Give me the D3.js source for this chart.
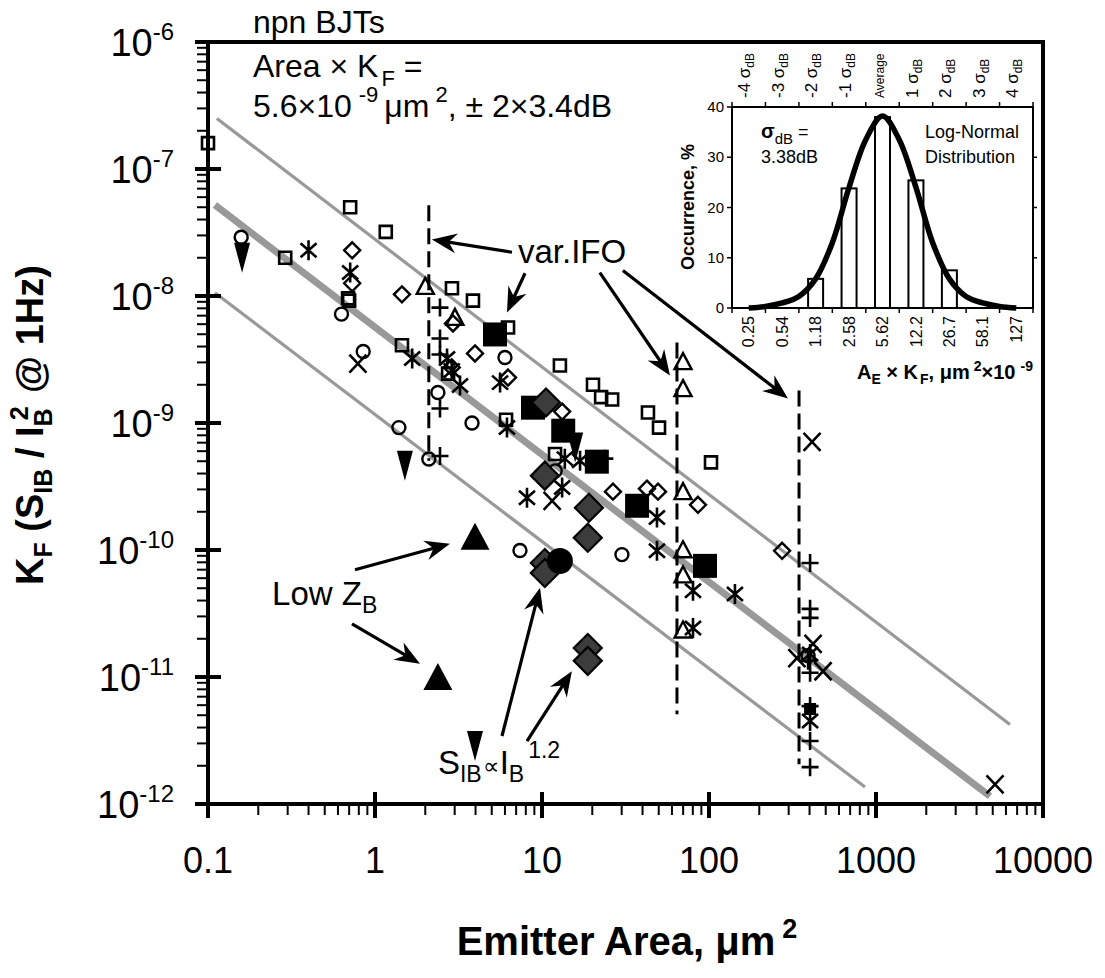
<!DOCTYPE html>
<html><head><meta charset="utf-8">
<script src="https://cdn.jsdelivr.net/npm/d3@7"></script>
<style>body{margin:0;background:#fff}svg{display:block}text{font-family:Arial,"Liberation Sans",sans-serif;fill:#000}</style>
</head><body><svg id="c" width="1105" height="978"></svg>
<script>
// ---------- DATA ----------
const xTickValues = [0.1, 1, 10, 100, 1000, 10000];
const xTickLabels = ["0.1", "1", "10", "100", "1000", "10000"];
const yTickExponents = [-6, -7, -8, -9, -10, -11, -12];

// [emitter area um^2, KF]
const openSquares = [[0.1,1.6e-7],[0.71,5.0e-8],[1.16,3.2e-8],[0.29,2.0e-8],[0.69,9.6e-9],[0.70,9.2e-9],[1.45,4.1e-9],[2.89,1.15e-8],[3.86,9.2e-9],[2.74,2.45e-9],[6.26,5.65e-9],[12.8,2.84e-9],[20.2,2.0e-9],[22.6,1.6e-9],[26.3,1.53e-9],[43.1,1.21e-9],[50.2,9.2e-10],[102.8,4.9e-10],[6.09,1.06e-9],[11.97,5.7e-10]];
const filledSquares = [[5.23,4.98e-9],[8.83,1.32e-9],[13.4,8.7e-10],[21.3,4.96e-10],[37.1,2.23e-10],[94.6,7.5e-11]];
const smallFilledSquares = [[403,5.6e-12]];
const darkDiamonds = [[10.57,1.45e-9],[10.4,3.85e-10],[19.1,2.15e-10],[18.8,1.25e-10],[10.4,7.9e-11],[10.4,6.6e-11],[18.8,1.69e-11],[18.8,1.34e-11]];
const filledCircles = [[12.8,8.2e-11]];
const filledTrianglesUp = [[3.97,1.25e-10],[2.38,9.8e-12]];
const filledTrianglesDown = [[0.16,2.0e-8],[1.51,4.6e-10],[3.97,2.86e-12],[15.8,6.4e-10]];
const openCircles = [[0.158,2.9e-8],[0.63,7.2e-9],[0.85,3.66e-9],[1.39,9.2e-10],[2.1,5.2e-10],[2.38,1.74e-9],[3.81,1.0e-9],[6.0,3.28e-9],[12.0,4.2e-10],[7.38,9.9e-11],[30.1,9.2e-11],[392,1.47e-11]];
const openDiamonds = [[0.73,2.29e-8],[0.73,1.26e-8],[1.45,1.03e-8],[2.93,6.08e-9],[3.97,3.53e-9],[2.88,2.74e-9],[6.26,2.28e-9],[13.2,1.23e-9],[26.6,2.88e-10],[42.5,3.04e-10],[49.5,2.88e-10],[85.9,2.27e-10],[274,9.86e-11]];
const openTriangles = [[2.0,1.17e-8],[3.01,6.66e-9],[69.9,2.99e-9],[69.9,1.83e-9],[69.9,2.83e-10],[69.9,9.86e-11],[69.9,6.26e-11],[69.9,2.3e-11]];
const asterisks = [[0.40,2.29e-8],[0.71,1.53e-8],[1.67,3.22e-9],[2.70,3.22e-9],[3.23,1.97e-9],[2.88,2.59e-9],[5.61,2.08e-9],[6.17,9.2e-10],[13.7,5.24e-10],[16.9,5.05e-10],[13.2,3.1e-10],[8.13,2.58e-10],[48.8,1.8e-10],[48.8,9.86e-11],[80.2,4.77e-11],[143,4.5e-11],[80.2,2.43e-11],[403,4.5e-12],[403,1.52e-11]];
const xMarks = [[0.79,2.94e-9],[11.5,2.44e-10],[336,1.41e-11],[420,1.82e-11],[482,1.11e-11],[5160,1.43e-12],[414,7.1e-10]];
const plusMarks = [[2.45,8.1e-9],[2.45,4.63e-9],[2.45,3.46e-9],[2.45,1.3e-9],[2.45,5.5e-10],[403,7.9e-11],[403,3.44e-11],[403,2.92e-11],[403,1.08e-11],[403,5.9e-12],[403,3.13e-12],[403,1.95e-12],[392,1.34e-11],[23.8,5.24e-10]];

// fit lines: Area x KF = 5.6e-9, +/- 2 x 3.4 dB
const fitCenter = [[0.11,5.2e-8],[4816,1.15e-12]];
const fitUpper = [[0.113,2.5e-7],[6340,4.23e-12]];
const fitLower = [[0.11,1.06e-8],[859,1.36e-12]];
// var.IFO dashed verticals
const ifoLines = [[[2.1,5.19e-8],[2.1,5.05e-10]],[[64.3,4.31e-9],[64.3,5.1e-12]],[[346,1.8e-9],[346,2.06e-12]]];
// annotation arrows [from, to]
const arrows = [
  [[6.61,2.21e-8],[2.19,2.79e-8]],
  [[7.91,1.51e-8],[6.17,7.43e-9]],
  [[22.2,1.53e-8],[58.4,2.37e-9]],
  [[30.5,1.59e-8],[297,1.56e-9]],
  [[0.759,6.98e-11],[2.81,1.12e-10]],
  [[0.728,2.62e-11],[1.86,1.27e-11]],
  [[5.76,3.43e-12],[9.73,5.04e-11]],
  [[8.13,3.13e-12],[15.1,1.11e-11]]
];

// inset histogram
const insetCategories = ["0.25","0.54","1.18","2.58","5.62","12.2","26.7","58.1","127"];
const insetTopLabels = ["-4","-3","-2","-1","Average","1","2","3","4"];
const insetOccurrence = [0,0,5.8,23.8,38,25.4,7.5,0,0];
const insetYTicks = [0,10,20,30,40];
const curveSigma = [-4,-3.5,-3,-2.5,-2,-1.5,-1,-0.5,0,0.5,1,1.5,2,2.5,3,3.5,4];
const curveOccurrence = [0,0.3,1,2.3,5.8,13,24,33.5,38.2,33.5,24,13,5.8,2.3,1,0.3,0];

// ---------- DRAW ----------
const svg = d3.select("#c");
const x = d3.scaleLog().domain([0.1, 1e4]).range([208, 1043]);
const y = d3.scaleLog().domain([1e-12, 1e-6]).range([804, 42]);
const line = d3.line().x(d => x(d[0])).y(d => y(d[1]));

const g = svg.append("g");
// fit lines
g.append("path").attr("d", line(fitUpper)).attr("stroke", "#999").attr("stroke-width", 3.2).attr("fill", "none");
g.append("path").attr("d", line(fitLower)).attr("stroke", "#999").attr("stroke-width", 3.2).attr("fill", "none");
g.append("path").attr("d", line(fitCenter)).attr("stroke", "#999").attr("stroke-width", 7).attr("fill", "none");
// dashed
ifoLines.forEach(l => g.append("path").attr("d", line(l)).attr("stroke", "#000").attr("stroke-width", 3).attr("stroke-dasharray", "16,7").attr("fill", "none"));

// markers
const S = {
  openSquare: "M-6,-6H6V6H-6Z",
  openDiamond: "M0,-8L8,0L0,8L-8,0Z",
  openCircle: "M6.5,0A6.5,6.5 0 1 1 -6.5,0A6.5,6.5 0 1 1 6.5,0Z",
  openTriangle: "M0,-9.5L8.5,6.5H-8.5Z",
  asterisk: "M0,-10V10M-8,-7L8,7M-8,7L8,-7",
  xMark: "M-8.5,-9L8.5,9M-8.5,9L8.5,-9",
  plus: "M-8.5,0H8.5M0,-9V9",
  filledSquare: "M-12,-12H12V12H-12Z",
  smallFilledSquare: "M-6,-6H6V6H-6Z",
  darkDiamond: "M0,-14L14,0L0,14L-14,0Z",
  filledCircle: "M13,0A13,13 0 1 1 -13,0A13,13 0 1 1 13,0Z",
  triUp: "M0,-15L14.5,12H-14.5Z",
  triDown: "M-8,-15H8L0,15Z"
};
function plot(data, shape, fill, stroke, sw) {
  g.append("g").selectAll("path").data(data).join("path")
    .attr("d", shape).attr("transform", p => `translate(${x(p[0])},${y(p[1])})`)
    .attr("fill", fill).attr("stroke", stroke).attr("stroke-width", sw);
}
plot(openSquares, S.openSquare, "none", "#000", 2.6);
plot(openCircles, S.openCircle, "none", "#000", 2.4);
plot(openDiamonds, S.openDiamond, "none", "#000", 2.4);
plot(openTriangles, S.openTriangle, "none", "#000", 2.4);
plot(asterisks, S.asterisk, "none", "#000", 2.6);
plot(xMarks, S.xMark, "none", "#000", 2.6);
plot(plusMarks, S.plus, "none", "#000", 2.6);
plot(filledTrianglesDown, S.triDown, "#000", "none", 0);
plot(filledSquares, S.filledSquare, "#000", "none", 0);
plot(smallFilledSquares, S.smallFilledSquare, "#000", "none", 0);
plot(darkDiamonds, S.darkDiamond, "#3c3c3c", "#000", 2.2);
plot(filledCircles, S.filledCircle, "#000", "none", 0);
plot(filledTrianglesUp, S.triUp, "#000", "none", 0);

// arrows
arrows.forEach(([a, b]) => {
  const x1 = x(a[0]), y1 = y(a[1]), x2 = x(b[0]), y2 = y(b[1]);
  const ang = Math.atan2(y2 - y1, x2 - x1);
  const L = Math.hypot(x2 - x1, y2 - y1);
  const ag = g.append("g").attr("transform", `translate(${x1},${y1}) rotate(${ang * 180 / Math.PI})`);
  ag.append("line").attr("x1", 0).attr("y1", 0).attr("x2", L - 12).attr("y2", 0).attr("stroke", "#000").attr("stroke-width", 3.2);
  ag.append("path").attr("d", `M${L},0L${L - 25},-10L${L - 17},0L${L - 25},10Z`).attr("fill", "#000");
});

// annotation texts
const F = 33;
g.append("text").attr("x", x(7.18)).attr("y", y(1.81e-8)).attr("font-size", F).text("var.IFO");
const lz = g.append("text").attr("x", x(0.242)).attr("y", y(3.7e-11)).attr("font-size", F);
lz.append("tspan").text("Low Z");
lz.append("tspan").attr("font-size", 23).attr("dy", 8).text("B");
const sib = g.append("text").attr("x", x(2.38)).attr("y", y(1.72e-12)).attr("font-size", F);
sib.append("tspan").text("S");
sib.append("tspan").attr("font-size", 23).attr("dy", 8).text("IB");
sib.append("tspan").attr("font-size", 23).attr("dy", -8).attr("dx", 1).text("\u221D");
sib.append("tspan").attr("font-size", F).attr("dx", 1).text("I");
sib.append("tspan").attr("font-size", 23).attr("dy", 8).text("B");
sib.append("tspan").attr("font-size", 23).attr("dy", -24).attr("dx", 4).text("1.2");

// header texts
const H = 32;
svg.append("text").attr("x", 253).attr("y", 33).attr("font-size", H).text("npn BJTs");
const t2 = svg.append("text").attr("x", 253).attr("y", 77).attr("font-size", H);
t2.append("tspan").text("Area \u00D7 K");
t2.append("tspan").attr("font-size", 22).attr("dy", 9).attr("dx", 3).text("F");
t2.append("tspan").attr("dy", -9).text(" =");
const t3 = svg.append("text").attr("x", 253).attr("y", 117).attr("font-size", H);
t3.append("tspan").text("5.6\u00D710");
t3.append("tspan").attr("font-size", 22).attr("dy", -15).attr("dx", 7).text("-9");
t3.append("tspan").attr("dy", 15).attr("dx", 6).text("\u03BCm");
t3.append("tspan").attr("font-size", 22).attr("dy", -15).attr("dx", 6).text("2");
t3.append("tspan").attr("dy", 15).text(", \u00B1 2\u00D73.4dB");

// ---------- AXES / FRAME ----------
const ax = svg.append("g").attr("stroke", "#000");
ax.append("rect").attr("x", 208).attr("y", 42).attr("width", 835).attr("height", 762).attr("fill", "none").attr("stroke-width", 4);
const xMinor = [], yMinor = [];
for (let d = 0.1; d < 5000; d *= 10) for (let m = 2; m <= 9; m++) xMinor.push(m * d);
for (let e = -12; e < -6; e++) for (let m = 2; m <= 9; m++) yMinor.push(m * Math.pow(10, e));
ax.selectAll(".xm").data(xMinor).join("line").attr("x1", d => x(d)).attr("x2", d => x(d)).attr("y1", 804).attr("y2", 815).attr("stroke-width", 2);
ax.selectAll(".xM").data(xTickValues).join("line").attr("x1", d => x(d)).attr("x2", d => x(d)).attr("y1", 792).attr("y2", 818).attr("stroke-width", 4);
ax.selectAll(".ym").data(yMinor).join("line").attr("y1", d => y(d)).attr("y2", d => y(d)).attr("x1", 197).attr("x2", 208).attr("stroke-width", 2);
ax.selectAll(".yM").data(yTickExponents).join("line").attr("y1", d => y(Math.pow(10, d))).attr("y2", d => y(Math.pow(10, d))).attr("x1", 195).attr("x2", 221).attr("stroke-width", 4);

svg.append("g").selectAll("text").data(xTickValues).join("text")
  .attr("x", d => x(d)).attr("y", 873).attr("text-anchor", "middle").attr("font-size", 36)
  .text((d, i) => xTickLabels[i]);
const yl = svg.append("g").selectAll("text").data(yTickExponents).join("text")
  .attr("x", 174).attr("y", d => y(Math.pow(10, d)) + 14).attr("text-anchor", "end").attr("font-size", 38);
yl.append("tspan").text("10");
yl.append("tspan").attr("font-size", 24).attr("dy", -16).text(d => String(d));

// axis titles
svg.append("text").attr("x", 627).attr("y", 955).attr("text-anchor", "middle").attr("font-size", 40).attr("font-weight", "bold")
  .call(t => { t.append("tspan").text("Emitter Area, \u03BCm"); t.append("tspan").attr("font-size", 27).attr("dy", -17).attr("dx", 7).text("2"); });
const yt = svg.append("text").attr("transform", "translate(43,425) rotate(-90)").attr("text-anchor", "middle").attr("font-size", 38).attr("font-weight", "bold");
yt.append("tspan").text("K");
yt.append("tspan").attr("font-size", 25).attr("dy", 9).text("F");
yt.append("tspan").attr("dy", -9).text(" (S");
yt.append("tspan").attr("font-size", 25).attr("dy", 9).text("IB");
yt.append("tspan").attr("dy", -9).text(" / I");
yt.append("tspan").attr("font-size", 25).attr("dy", 9).text("B");
yt.append("tspan").attr("font-size", 25).attr("dy", -24).attr("dx", -12).text("2");
yt.append("tspan").attr("dy", 15).attr("dx", 3).text(" @ 1Hz)");

// ---------- INSET ----------
const ix = d3.scaleBand().domain(insetCategories).range([732, 1033]);
const iy = d3.scaleLinear().domain([0, 40]).range([308, 107]);
const isx = d3.scaleLinear().domain([-4, 4]).range([ix(insetCategories[0]) + ix.bandwidth() / 2, ix(insetCategories[8]) + ix.bandwidth() / 2]);
const ig = svg.append("g");
ig.selectAll("rect.bar").data(insetOccurrence).join("rect")
  .attr("x", (d, i) => ix(insetCategories[i]) + ix.bandwidth() / 2 - 7.5).attr("width", 15)
  .attr("y", d => iy(d)).attr("height", d => iy(0) - iy(d))
  .attr("fill", "#fff").attr("stroke", "#000").attr("stroke-width", 2);
ig.append("path").datum(curveSigma.map((s, i) => [s, curveOccurrence[i]]))
  .attr("d", d3.line().x(d => isx(d[0])).y(d => iy(d[1])).curve(d3.curveCatmullRom))
  .attr("fill", "none").attr("stroke", "#000").attr("stroke-width", 5.5);
ig.append("rect").attr("x", 732).attr("y", 107).attr("width", 301).attr("height", 201).attr("fill", "none").attr("stroke", "#000").attr("stroke-width", 2);
const edges = insetCategories.map(c => ix(c)).concat([1033]);
ig.selectAll("line.bt").data(edges).join("line").attr("x1", d => d).attr("x2", d => d).attr("y1", 308).attr("y2", 313).attr("stroke", "#000").attr("stroke-width", 1.5);
ig.selectAll("line.tt").data(edges).enter().append("line").attr("x1", d => d).attr("x2", d => d).attr("y1", 102).attr("y2", 107).attr("stroke", "#000").attr("stroke-width", 1.5);
ig.selectAll("line.lt").data(insetYTicks).enter().append("line").attr("x1", 727).attr("x2", 732).attr("y1", d => iy(d)).attr("y2", d => iy(d)).attr("stroke", "#000").attr("stroke-width", 1.5);
ig.selectAll("line.rt").data(insetYTicks.slice(1, 4)).enter().append("line").attr("x1", 1033).attr("x2", 1037).attr("y1", d => iy(d)).attr("y2", d => iy(d)).attr("stroke", "#000").attr("stroke-width", 1.5);
ig.selectAll("text.yl").data(insetYTicks).enter().append("text").attr("x", 724).attr("y", d => iy(d) + 5).attr("text-anchor", "end").attr("font-size", 15).text(d => d);
ig.selectAll("text.xl").data(insetCategories).enter().append("text")
  .attr("transform", d => `translate(${ix(d) + ix.bandwidth() / 2},316) rotate(-90)`)
  .attr("text-anchor", "end").attr("dy", "0.35em").attr("font-size", 16).text(d => d);
const tl = ig.selectAll("text.tl").data(insetTopLabels).enter().append("text")
  .attr("transform", (d, i) => `translate(${ix(insetCategories[i]) + ix.bandwidth() / 2},98) rotate(-90)`)
  .attr("text-anchor", "start").attr("dy", "0.1em").attr("font-size", d => d === "Average" ? 12 : 17);
tl.append("tspan").text(d => d === "Average" ? d : d + " \u03C3");
tl.filter(d => d !== "Average").append("tspan").attr("font-size", 12).attr("dy", 4).text("dB");
ig.append("text").attr("transform", "translate(694,207) rotate(-90)").attr("text-anchor", "middle").attr("font-size", 18).attr("font-weight", "bold").text("Occurrence, %");
const ixl = ig.append("text").attr("x", 857).attr("y", 379).attr("font-size", 20).attr("font-weight", "bold");
ixl.append("tspan").text("A");
ixl.append("tspan").attr("font-size", 14).attr("dy", 5).text("E");
ixl.append("tspan").attr("dy", -5).text(" \u00D7 K");
ixl.append("tspan").attr("font-size", 14).attr("dy", 5).attr("dx", 2).text("F");
ixl.append("tspan").attr("dy", -5).text(", \u03BCm");
ixl.append("tspan").attr("font-size", 14).attr("dy", -8).attr("dx", 4).text("2");
ixl.append("tspan").attr("dy", 8).text("\u00D710");
ixl.append("tspan").attr("font-size", 14).attr("dy", -8).attr("dx", 5).text("-9");
const sg = ig.append("text").attr("x", 761).attr("y", 138).attr("font-size", 18);
sg.append("tspan").attr("font-weight", "bold").attr("font-size", 20).text("\u03C3");
sg.append("tspan").attr("font-size", 15).attr("dy", 6).text("dB");
sg.append("tspan").attr("dy", -6).text(" =");
ig.append("text").attr("x", 761).attr("y", 163).attr("font-size", 18).text("3.38dB");
ig.append("text").attr("x", 925).attr("y", 138).attr("font-size", 18).text("Log-Normal");
ig.append("text").attr("x", 925).attr("y", 163).attr("font-size", 18).text("Distribution");
</script></body></html>
